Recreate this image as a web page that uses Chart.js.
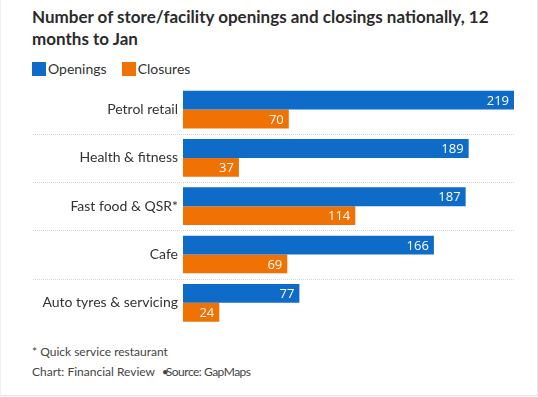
<!DOCTYPE html>
<html lang="en">
<head>
    <meta charset="UTF-8">
    <title>Store openings and closings</title>
    <style>
        body {
            margin: 0;
            width: 538px;
            height: 397px;
            overflow: hidden;
            background: #ffffff;
            font-family: Lato, sans-serif;
            color: #333;
            position: relative;
        }
        #frame {
            position: absolute;
            left: 0; top: 0;
            width: 536px; height: 395px;
            border-right: 1px solid #e2e2e2;
            border-bottom: 1px solid #e2e2e2;
            border-left: 1px solid #f0f0f0;
        }
        #title {
            position: absolute;
            left: 32px; top: 6px;
            width: 482px;
            font-size: 17px;
            font-weight: bold;
            line-height: 22px;
            color: #2b2b2b;
        }
        #legend {
            position: absolute;
            left: 32px; top: 60px;
            display: flex;
            font-size: 14px;
            line-height: 18px;
            color: #333;
        }
        #legend .item { display: flex; align-items: center; margin-right: 15px; }
        #legend .box { width: 14px; height: 14px; margin-right: 2px; }
        #wrap {
            position: absolute;
            left: 0; top: 80px;
            width: 538px; height: 257px;
        }
        #notes {
            position: absolute;
            left: 32px; top: 342px;
            font-size: 12px;
            line-height: 20px;
            color: #444;
        }
        #notes .src { letter-spacing: -0.5px; }
    </style>
</head>
<body>
    <div id="frame"></div>
    <div id="title">Number of store/facility openings and closings nationally, 12 months to Jan</div>
    <div id="legend"></div>
    <div id="wrap"><canvas id="chart"></canvas></div>
    <div id="notes">
        <div>* Quick service restaurant</div>
        <div>Chart: Financial Review <span style="margin-left:4px;margin-right:-3px">•</span><span class="src">Source: GapMaps</span></div>
    </div>

    <script src="https://cdn.jsdelivr.net/npm/chart.js"></script>
    <script>
        // dados
        const categories = ['Petrol retail', 'Health & fitness', 'Fast food & QSR*', 'Cafe', 'Auto tyres & servicing'];
        const seriesNames = ['Openings', 'Closures'];
        const openings = [219, 189, 187, 166, 77];
        const closures = [70, 37, 114, 69, 24];
        const colors = ['#0f6bc8', '#f07204'];

        // linhas pontilhadas entre as categorias
        const separators = {
            id: 'separators',
            beforeDatasetsDraw(chart) {
                const { ctx, chartArea, scales } = chart;
                const y = scales.y;
                ctx.save();
                ctx.strokeStyle = '#d6d6d6';
                ctx.lineWidth = 1;
                ctx.setLineDash([1, 1]);
                for (let i = 0; i < categories.length - 1; i++) {
                    const py = Math.round((y.getPixelForValue(i) + y.getPixelForValue(i + 1)) / 2) + 0.5;
                    ctx.beginPath();
                    ctx.moveTo(33, py);
                    ctx.lineTo(chartArea.right + 1, py);
                    ctx.stroke();
                }
                ctx.restore();
            }
        };

        // valores dentro das barras
        const valueLabels = {
            id: 'valueLabels',
            afterDatasetsDraw(chart) {
                const { ctx } = chart;
                ctx.save();
                ctx.fillStyle = '#ffffff';
                ctx.font = '13px "Open Sans", sans-serif';
                ctx.textAlign = 'right';
                ctx.textBaseline = 'middle';
                chart.data.datasets.forEach((ds, di) => {
                    chart.getDatasetMeta(di).data.forEach((bar, i) => {
                        ctx.fillText(ds.data[i], bar.x - 5, bar.y + 1);
                    });
                });
                ctx.restore();
            }
        };

        const chart = new Chart(document.getElementById('chart'), {
            type: 'bar',
            data: {
                labels: categories,
                datasets: [
                    { label: seriesNames[0], data: openings, backgroundColor: colors[0] },
                    { label: seriesNames[1], data: closures, backgroundColor: colors[1] }
                ]
            },
            options: {
                indexAxis: 'y',
                responsive: true,
                maintainAspectRatio: false,
                animation: false,
                layout: { padding: { left: 31, right: 24, top: 0, bottom: 10 } },
                datasets: {
                    bar: { categoryPercentage: 0.78, barPercentage: 1.0 }
                },
                scales: {
                    x: { display: false, min: 0, max: 219 },
                    y: {
                        grid: { display: false },
                        border: { display: false },
                        ticks: {
                            color: '#333',
                            font: { family: 'Lato', size: 14 },
                            padding: -3
                        },
                        afterFit(scale) { scale.width = 152; }
                    }
                },
                plugins: {
                    legend: { display: false },
                    tooltip: { enabled: false }
                }
            },
            plugins: [separators, valueLabels]
        });

        // legenda em HTML
        const legend = document.getElementById('legend');
        chart.data.datasets.forEach(ds => {
            const item = document.createElement('div');
            item.className = 'item';
            item.innerHTML = '<span class="box" style="background:' + ds.backgroundColor + '"></span>' + ds.label;
            legend.appendChild(item);
        });
    </script>
</body>
</html>
